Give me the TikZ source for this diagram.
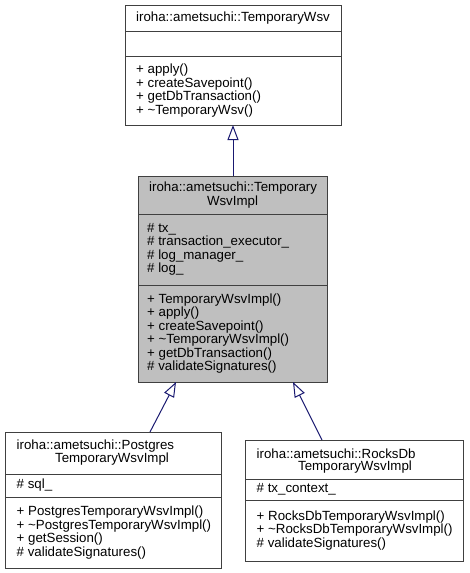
\documentclass[tikz,border=0pt]{standalone}
\usepackage{fontspec}
\setmainfont{Liberation Sans}
\usetikzlibrary{arrows.meta}
\definecolor{bordc}{HTML}{404040}
\definecolor{fillc}{HTML}{BFBFBF}
\definecolor{arrc}{HTML}{191970}
\begin{document}
\begin{tikzpicture}[x=1pt,y=-1pt,
  cls/.style={draw=bordc, line width=1pt, fill=white, inner sep=0pt, outer sep=0pt, anchor=north west},
  txt/.style={font=\fontsize{13.3}{13.5}\selectfont, inner sep=0pt, align=left, anchor=west},
  ctxt/.style={font=\fontsize{13.3}{13.5}\selectfont, inner sep=0pt, anchor=center},
  sepline/.style={draw=bordc, line width=1pt},
  inh/.style={draw=arrc, line width=1pt, -{Triangle[open,length=15pt,width=11pt]}}]
\useasboundingbox (0,0) rectangle (469,573);

% top class
\node[cls, minimum width=216pt, minimum height=120pt] (top) at (125,5) {};
\draw[sepline] (125,31) -- (341,31);
\draw[sepline] (125,56) -- (341,56);
\node[ctxt] (toptitle) at (233,18.3) {iroha::ametsuchi::TemporaryWsv};
\node[txt] (topm) at (136,90.5) {+ apply()\\+ createSavepoint()\\+ getDbTransaction()\\+ \textasciitilde TemporaryWsv()};

% middle class
\node[cls, fill=fillc, minimum width=189pt, minimum height=206pt] (mid) at (138,176) {};
\draw[sepline] (138,214) -- (327,214);
\draw[sepline] (138,285) -- (327,285);
\node[txt] (midt1) at (149,188.3) {iroha::ametsuchi::Temporary};
\node[ctxt] (midt2) at (232.5,201.8) {WsvImpl};
\node[txt] (mida) at (147,249.5) {\# tx\_\\\# transaction\_executor\_\\\# log\_manager\_\\\# log\_};
\node[txt] (midm) at (147,333.5) {+ TemporaryWsvImpl()\\+ apply()\\+ createSavepoint()\\+ \textasciitilde TemporaryWsvImpl()\\+ getDbTransaction()\\\# validateSignatures()};

% postgres class
\node[cls, minimum width=216pt, minimum height=136pt] (pg) at (5,432) {};
\draw[sepline] (5,474) -- (221,474);
\draw[sepline] (5,497) -- (221,497);
\node[txt] (pgt1) at (16.5,446) {iroha::ametsuchi::Postgres};
\node[ctxt] (pgt2) at (112,459.5) {TemporaryWsvImpl};
\node[txt] (pga) at (16.5,485.5) {\# sql\_};
\node[txt] (pgm) at (16.5,532.5) {+ PostgresTemporaryWsvImpl()\\+ \textasciitilde PostgresTemporaryWsvImpl()\\+ getSession()\\\# validateSignatures()};

% rocksdb class
\node[cls, minimum width=218pt, minimum height=121pt] (rk) at (245,440) {};
\draw[sepline] (245,479) -- (463,479);
\draw[sepline] (245,500) -- (463,500);
\node[txt] (rkt1) at (256.5,453.5) {iroha::ametsuchi::RocksDb};
\node[ctxt] (rkt2) at (355,467) {TemporaryWsvImpl};
\node[txt] (rka) at (256.5,489.5) {\# tx\_context\_};
\node[txt] (rkm) at (256.5,530.5) {+ RocksDbTemporaryWsvImpl()\\+ \textasciitilde RocksDbTemporaryWsvImpl()\\\# validateSignatures()};

% connectors
\coordinate (pgfoot) at (150,432);
\coordinate (midbl) at (176,382);
\coordinate (rkfoot) at (322,440);
\coordinate (midbr) at (293,382);
\draw[inh] (mid.north -| top.south) -- (top.south);
\draw[inh] (pgfoot) -- (midbl);
\draw[inh] (rkfoot) -- (midbr);
\end{tikzpicture}
\end{document}
